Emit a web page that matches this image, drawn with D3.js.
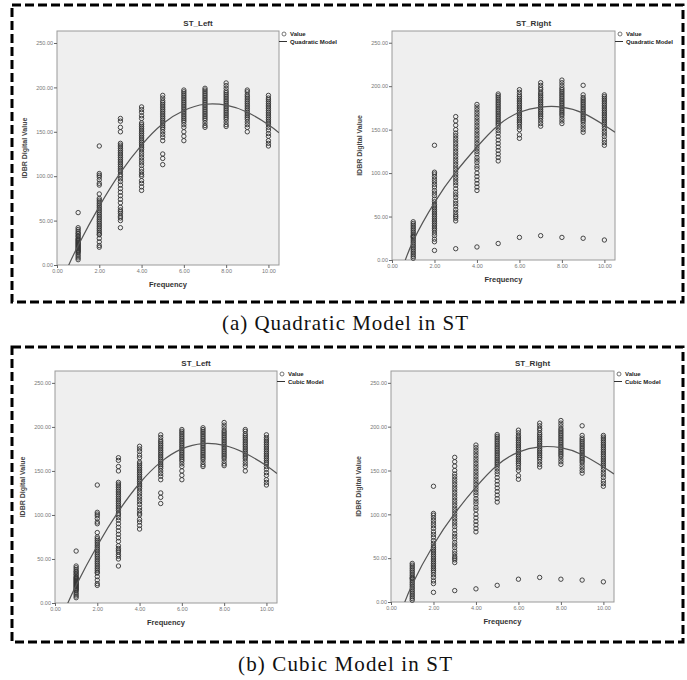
<!DOCTYPE html>
<html>
<head>
<meta charset="utf-8">
<script src="https://cdn.jsdelivr.net/npm/d3@7"></script>
<style>
  body { margin: 0; background: #fff; }
  svg { display: block; }
</style>
</head>
<body>
<div class="figure"></div>
<script>
// DATA ------------------------------------

const frequency = [1, 2, 3, 4, 5, 6, 7, 8, 9, 10]

// IDBR digital values per frequency
const stLeft = [
    [59, 42, 40, 38, 36, 35, 33, 32, 30, 29, 28, 27, 26, 25, 24, 23, 22, 21, 20, 19, 18, 17, 16, 15, 14, 12, 10, 8, 6],
    [134, 103, 101, 99, 96, 92, 90, 80, 75, 73, 71, 69, 67, 65, 63, 61, 59, 57, 55, 53, 51, 49, 47, 45, 43, 41, 39, 37, 35, 34, 30, 26, 22, 20],
    [165, 162, 155, 150, 137, 135, 133, 131, 129, 127, 125, 123, 121, 119, 117, 115, 113, 111, 109, 107, 105, 102, 100, 97, 94, 90, 86, 82, 78, 74, 70, 65, 62, 60, 58, 55, 53, 50, 42],
    [178, 175, 172, 168, 165, 160, 158, 156, 154, 152, 150, 148, 146, 144, 142, 140, 138, 136, 134, 132, 130, 127, 124, 121, 118, 115, 112, 108, 105, 102, 100, 95, 92, 88, 84],
    [191, 188, 185, 183, 181, 179, 177, 175, 173, 171, 169, 167, 165, 163, 161, 159, 157, 155, 153, 150, 147, 144, 140, 125, 120, 113],
    [197, 195, 193, 191, 189, 187, 185, 183, 181, 179, 177, 175, 173, 171, 169, 167, 165, 163, 161, 158, 155, 150, 145, 140],
    [199, 197, 195, 193, 191, 189, 187, 185, 183, 181, 179, 177, 175, 173, 171, 169, 167, 165, 163, 160, 157, 155],
    [205, 202, 199, 196, 194, 192, 190, 188, 186, 184, 182, 180, 178, 176, 174, 172, 170, 168, 166, 164, 161, 158, 156],
    [197, 195, 192, 190, 188, 186, 184, 182, 180, 178, 176, 174, 172, 170, 168, 166, 164, 161, 158, 155, 150],
    [191, 188, 186, 184, 182, 180, 178, 176, 174, 172, 170, 168, 166, 164, 162, 160, 158, 155, 152, 148, 145, 140, 137, 134]
]
const stRight = [
    [44, 42, 40, 38, 36, 34, 32, 30, 28, 27, 26, 24, 22, 20, 18, 16, 14, 12, 10, 8, 6, 4, 2],
    [132, 101, 99, 96, 93, 90, 87, 84, 80, 77, 74, 70, 67, 64, 62, 60, 58, 56, 54, 52, 50, 48, 46, 44, 42, 40, 38, 36, 34, 31, 28, 24, 21, 11],
    [165, 160, 155, 150, 146, 143, 140, 137, 134, 131, 128, 125, 122, 119, 116, 113, 110, 107, 104, 101, 98, 95, 92, 89, 86, 82, 78, 75, 72, 68, 65, 62, 58, 55, 52, 50, 48, 45, 13],
    [179, 176, 173, 170, 167, 164, 161, 158, 155, 152, 149, 146, 143, 140, 137, 134, 131, 128, 125, 122, 118, 115, 112, 108, 105, 100, 96, 92, 88, 84, 80, 15],
    [191, 189, 187, 185, 183, 181, 179, 177, 175, 173, 171, 169, 167, 165, 163, 161, 159, 157, 155, 152, 149, 146, 142, 138, 134, 130, 126, 122, 118, 114, 19],
    [196, 193, 190, 188, 186, 184, 182, 180, 178, 176, 174, 172, 170, 168, 166, 164, 162, 160, 158, 156, 153, 150, 144, 140, 26],
    [204, 201, 198, 196, 193, 191, 189, 187, 185, 183, 181, 179, 177, 175, 173, 171, 169, 167, 165, 163, 160, 157, 154, 28],
    [207, 204, 201, 198, 196, 194, 192, 190, 188, 186, 184, 182, 180, 178, 176, 174, 172, 170, 168, 166, 163, 160, 157, 26],
    [201, 190, 187, 185, 183, 181, 179, 177, 175, 173, 171, 169, 167, 165, 163, 161, 159, 156, 153, 150, 147, 25],
    [190, 188, 186, 184, 182, 180, 178, 176, 174, 172, 170, 168, 166, 164, 162, 160, 158, 156, 154, 151, 148, 145, 142, 138, 135, 132, 23]
]

// fitted model lines, read at these frequencies
const curveFreq = [0.5, 1, 2, 3, 4, 5, 6, 7, 8, 9, 10, 10.5]
const leftQuadratic = [-3, 22, 66, 104, 135, 159, 174, 181, 180, 172, 158, 149]
const rightQuadratic = [-9, 22, 66, 101, 130, 155, 170, 176, 176, 169, 155, 147]
const leftCubic = [-6, 20, 65, 104, 136, 160, 175, 181, 179, 170, 156, 147]
const rightCubic = [-10, 20, 65, 101, 131, 156, 171, 177, 176, 168, 154, 146]

const xTicks = [0, 2, 4, 6, 8, 10]
const yTicks = [0, 50, 100, 150, 200, 250]

// SVG ------------------------------------
const W = 687, H = 680
const svg = d3.select(".figure").append("svg")
    .attr("width", W)
    .attr("height", H)

svg.append("rect").attr("width", W).attr("height", H).attr("fill", "#fff")

// dashed frames
const frames = [[12, 5, 683, 302], [12, 347, 683, 642]]
frames.forEach(f => {
    svg.append("rect")
        .attr("x", f[0]).attr("y", f[1])
        .attr("width", f[2] - f[0]).attr("height", f[3] - f[1])
        .attr("fill", "none")
        .attr("stroke", "#000")
        .attr("stroke-width", 3)
        .attr("stroke-dasharray", "9,4")
})

// captions
const captions = [["(a) Quadratic Model in ST", 330, 246], ["(b) Cubic Model in ST", 671, 214]]
captions.forEach(c => {
    svg.append("text")
        .attr("x", 345).attr("y", c[1])
        .attr("text-anchor", "middle")
        .attr("textLength", c[2])
        .attr("lengthAdjust", "spacing")
        .style("font-family", "'Liberation Serif', 'DejaVu Serif', serif")
        .style("font-size", "21px")
        .attr("fill", "#111")
        .text(c[0])
})

// CHART ----------------------------------
let clipId = 0
function drawChart(box, title, values, curve, modelName) {
    const [x0, y0, x1, y1] = box
    const xScale = d3.scaleLinear().domain([0, 10.5]).range([x0, x1])
    const yScale = d3.scaleLinear().domain([0, 263.5]).range([y1, y0])
    const g = svg.append("g")

    g.append("rect")
        .attr("x", x0).attr("y", y0)
        .attr("width", x1 - x0).attr("height", y1 - y0)
        .attr("fill", "#efefef")
        .attr("stroke", "#9a9a9a")
        .attr("stroke-width", 1)

    const id = "clip" + (clipId++)
    g.append("clipPath").attr("id", id)
        .append("rect")
        .attr("x", x0).attr("y", y0)
        .attr("width", x1 - x0).attr("height", y1 - y0)

    // axes
    const yAx = d3.axisLeft(yScale).tickValues(yTicks).tickFormat(d3.format(".2f"))
        .tickSize(3).tickPadding(1)
    const xAx = d3.axisBottom(xScale).tickValues(xTicks).tickFormat(d3.format(".2f"))
        .tickSize(3).tickPadding(1)
    const yGroup = g.append("g").attr("transform", `translate(${x0},0)`).call(yAx)
    const xGroup = g.append("g").attr("transform", `translate(0,${y1})`).call(xAx)
    ;[yGroup, xGroup].forEach(a => {
        a.select(".domain").remove()
        a.selectAll(".tick line").attr("stroke", "#666")
        a.selectAll(".tick text")
            .attr("fill", "#777")
            .style("font-family", "'Liberation Sans', Arial, sans-serif")
            .style("font-size", "5.5px")
    })

    // points
    const pts = []
    values.forEach((col, i) => col.forEach(v => pts.push([frequency[i], v])))
    g.append("g").selectAll("circle")
        .data(pts)
        .join("circle")
            .attr("cx", d => xScale(d[0]))
            .attr("cy", d => yScale(d[1]))
            .attr("r", 2.2)
            .attr("fill", "none")
            .attr("stroke", "#333")
            .attr("stroke-width", 0.9)

    // model line
    const line = d3.line()
        .x((d, i) => xScale(curveFreq[i]))
        .y(d => yScale(d))
        .curve(d3.curveNatural)
    g.append("path")
        .attr("clip-path", `url(#${id})`)
        .attr("d", line(curve))
        .attr("fill", "none")
        .attr("stroke", "#555")
        .attr("stroke-width", 1.2)

    // titles
    g.append("text")
        .attr("x", (x0 + x1) / 2 + 30).attr("y", y0 - 5)
        .attr("text-anchor", "middle")
        .style("font-family", "'Liberation Sans', Arial, sans-serif")
        .style("font-size", "8px")
        .style("font-weight", "bold")
        .attr("fill", "#333")
        .text(title)

    g.append("text")
        .attr("x", (x0 + x1) / 2).attr("y", y1 + 22)
        .attr("text-anchor", "middle")
        .style("font-family", "'Liberation Sans', Arial, sans-serif")
        .style("font-size", "7.5px")
        .style("font-weight", "bold")
        .attr("fill", "#333")
        .text("Frequency")

    g.append("text")
        .attr("transform", `translate(${x0 - 30},${(y0 + y1) / 2}) rotate(-90)`)
        .attr("text-anchor", "middle")
        .style("font-family", "'Liberation Sans', Arial, sans-serif")
        .style("font-size", "7px")
        .style("font-weight", "bold")
        .attr("fill", "#444")
        .text("IDBR Digital Value")

    // legend
    const lg = g.append("g").attr("transform", `translate(${x1},${y0})`)
    lg.append("circle").attr("cx", 5).attr("cy", 3)
        .attr("r", 2).attr("fill", "none").attr("stroke", "#555").attr("stroke-width", 0.8)
    lg.append("line").attr("x1", 0).attr("x2", 8).attr("y1", 10.5).attr("y2", 10.5)
        .attr("stroke", "#333").attr("stroke-width", 1)
    lg.selectAll("text")
        .data(["Value", modelName])
        .join("text")
            .attr("x", 11)
            .attr("y", (d, i) => 5.2 + i * 7.5)
            .style("font-family", "'Liberation Sans', Arial, sans-serif")
            .style("font-size", "6px")
            .style("font-weight", "bold")
            .attr("fill", "#222")
            .text(d => d)
}

drawChart([57, 31, 279, 265], "ST_Left", stLeft, leftQuadratic, "Quadratic Model")
drawChart([392, 31, 615, 260], "ST_Right", stRight, rightQuadratic, "Quadratic Model")
drawChart([55, 371, 277, 603], "ST_Left", stLeft, leftCubic, "Cubic Model")
drawChart([391, 371, 614, 602], "ST_Right", stRight, rightCubic, "Cubic Model")
</script>
</body>
</html>
